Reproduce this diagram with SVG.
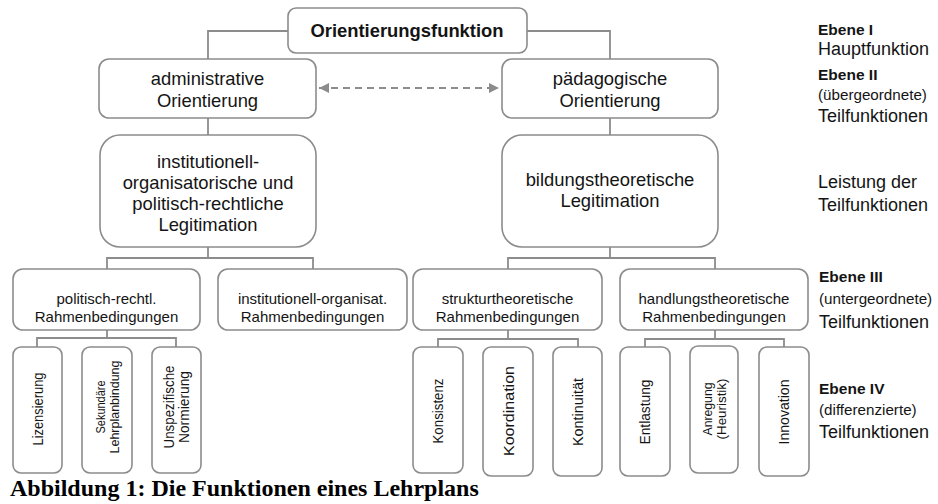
<svg xmlns="http://www.w3.org/2000/svg" width="938" height="504" viewBox="0 0 938 504">
<defs>
<style>
.box{fill:#fff;stroke:#8c8c8c;stroke-width:1.6}
.con{fill:none;stroke:#8c8c8c;stroke-width:1.8}
.t{font-family:"Liberation Sans",Arial,sans-serif;fill:#141414;text-anchor:middle}
.l2{font-size:18.4px}
.l3{font-size:15px}
.lab{font-family:"Liberation Sans",Arial,sans-serif;fill:#141414}
.eb{font-size:15.5px;font-weight:bold}
.big{font-size:18px}
.par{font-size:15.2px}
.v{font-size:14.5px}
.v2{font-size:13.5px}
</style>
<marker id="ah" viewBox="0 0 10 10" refX="10" refY="5" markerWidth="12" markerHeight="10" markerUnits="userSpaceOnUse" orient="auto-start-reverse">
<path d="M0,0 L10,5 L0,10 z" fill="#8c8c8c"/>
</marker>
</defs>
<rect width="938" height="504" fill="#fff"/>

<g id="connectors">
<path class="con" d="M288,31 H208 V59"/>
<path class="con" d="M527,31 H610 V59"/>
<path class="con" d="M208,118 V135"/>
<path class="con" d="M610,118 V135"/>
<path class="con" d="M208,247 V258"/>
<path class="con" d="M107,269 V258 H313 V269"/>
<path class="con" d="M610,247 V258"/>
<path class="con" d="M508,269 V258 H715 V269"/>
<path class="con" d="M107,330 V338"/>
<path class="con" d="M37,347 V338 H176 V347"/>
<path class="con" d="M508,330 V339"/>
<path class="con" d="M438,347 V339 H578 V347"/>
<path class="con" d="M715,330 V339"/>
<path class="con" d="M645,347 V339 H784 V347"/>
<line x1="319" y1="88" x2="499" y2="88" stroke="#8c8c8c" stroke-width="1.8" stroke-dasharray="7,5" marker-start="url(#ah)" marker-end="url(#ah)"/>
</g>

<g id="orientierungsfunktion">
<rect class="box" x="288" y="8" width="239" height="45" rx="8"/>
<text class="t" x="407" y="37" font-size="18.4" font-weight="bold">Orientierungsfunktion</text>
</g>

<g id="administrative">
<rect class="box" x="99" y="59" width="217" height="59" rx="10"/>
<text class="t l2" x="207.5" y="85">administrative</text>
<text class="t l2" x="207.5" y="107">Orientierung</text>
</g>

<g id="paedagogische">
<rect class="box" x="502" y="59" width="216" height="59" rx="10"/>
<text class="t l2" x="610" y="85">pädagogische</text>
<text class="t l2" x="610" y="107">Orientierung</text>
</g>

<g id="legitimation-inst">
<rect class="box" x="100" y="135" width="216" height="112" rx="20"/>
<text class="t l2" x="208" y="168">institutionell-</text>
<text class="t l2" x="208" y="189">organisatorische und</text>
<text class="t l2" x="208" y="210">politisch-rechtliche</text>
<text class="t l2" x="208" y="231">Legitimation</text>
</g>

<g id="legitimation-bild">
<rect class="box" x="502" y="135" width="216" height="112" rx="20"/>
<text class="t l2" x="610" y="186">bildungstheoretische</text>
<text class="t l2" x="610" y="207">Legitimation</text>
</g>

<g id="politisch">
<rect class="box" x="13" y="269" width="187" height="61" rx="10"/>
<text class="t l3" x="106.5" y="304">politisch-rechtl.</text>
<text class="t l3" x="106.5" y="322">Rahmenbedingungen</text>
</g>

<g id="institutionell">
<rect class="box" x="218" y="269" width="189" height="61" rx="10"/>
<text class="t l3" x="312.5" y="304">institutionell-organisat.</text>
<text class="t l3" x="312.5" y="322">Rahmenbedingungen</text>
</g>

<g id="strukturtheoretisch">
<rect class="box" x="413" y="269" width="189" height="61" rx="10"/>
<text class="t l3" x="507.5" y="304">strukturtheoretische</text>
<text class="t l3" x="507.5" y="322">Rahmenbedingungen</text>
</g>

<g id="handlungstheoretisch">
<rect class="box" x="620" y="269" width="188" height="61" rx="10"/>
<text class="t l3" x="714" y="304">handlungstheoretische</text>
<text class="t l3" x="714" y="322">Rahmenbedingungen</text>
</g>

<g id="lizensierung">
<rect class="box" x="13" y="347" width="49" height="126" rx="8"/>
<text class="t v" transform="translate(37.5,409) rotate(-90)" y="5" textLength="73" lengthAdjust="spacingAndGlyphs">Lizensierung</text>
</g>

<g id="sekundaere">
<rect class="box" x="82" y="347" width="50" height="126" rx="8"/>
<g transform="translate(107,407) rotate(-90)">
<text class="t v2" y="-2.5" textLength="53" lengthAdjust="spacingAndGlyphs">Sekundäre</text>
<text class="t v2" y="12" textLength="93" lengthAdjust="spacingAndGlyphs">Lehrplanbindung</text>
</g>
</g>

<g id="unspezifische">
<rect class="box" x="152" y="347" width="49" height="126" rx="8"/>
<g transform="translate(176.5,407) rotate(-90)">
<text class="t v" y="-3" textLength="83" lengthAdjust="spacingAndGlyphs">Unspezifische</text>
<text class="t v" y="12.5" textLength="72" lengthAdjust="spacingAndGlyphs">Normierung</text>
</g>
</g>

<g id="konsistenz">
<rect class="box" x="413" y="347" width="50" height="126" rx="8"/>
<text class="t v" transform="translate(438,411) rotate(-90)" y="5" textLength="65" lengthAdjust="spacingAndGlyphs">Konsistenz</text>
</g>

<g id="koordination">
<rect class="box" x="483" y="347" width="50" height="129" rx="8"/>
<text class="t" font-size="15.5" transform="translate(508,411) rotate(-90)" y="5.5" textLength="90" lengthAdjust="spacingAndGlyphs">Koordination</text>
</g>

<g id="kontinuitaet">
<rect class="box" x="553" y="347" width="49" height="129" rx="8"/>
<text class="t v" transform="translate(578,412) rotate(-90)" y="5" textLength="68" lengthAdjust="spacingAndGlyphs">Kontinuität</text>
</g>

<g id="entlastung">
<rect class="box" x="620" y="347" width="50" height="129" rx="8"/>
<text class="t v" transform="translate(645,412) rotate(-90)" y="5" textLength="65" lengthAdjust="spacingAndGlyphs">Entlastung</text>
</g>

<g id="anregung">
<rect class="box" x="690" y="346" width="48" height="127" rx="8"/>
<g transform="translate(714,409) rotate(-90)">
<text class="t v2" y="-2.5" textLength="53" lengthAdjust="spacingAndGlyphs">Anregung</text>
<text class="t v2" y="12" textLength="61" lengthAdjust="spacingAndGlyphs">(Heuristik)</text>
</g>
</g>

<g id="innovation">
<rect class="box" x="759" y="347" width="50" height="129" rx="8"/>
<text class="t v" transform="translate(784,412) rotate(-90)" y="5" textLength="65" lengthAdjust="spacingAndGlyphs">Innovation</text>
</g>

<g id="ebenen">
<text class="lab eb" x="818" y="35">Ebene I</text>
<text class="lab big" x="818" y="55">Hauptfunktion</text>
<text class="lab eb" x="818" y="80">Ebene II</text>
<text class="lab par" x="818" y="100">(übergeordnete)</text>
<text class="lab big" x="818" y="122">Teilfunktionen</text>
<text class="lab big" x="818" y="188">Leistung der</text>
<text class="lab big" x="818" y="211">Teilfunktionen</text>
<text class="lab eb" x="819" y="282">Ebene III</text>
<text class="lab par" x="819" y="304">(untergeordnete)</text>
<text class="lab big" x="819" y="328">Teilfunktionen</text>
<text class="lab eb" x="819" y="394">Ebene IV</text>
<text class="lab par" x="819" y="415">(differenzierte)</text>
<text class="lab big" x="819" y="438">Teilfunktionen</text>
</g>

<text x="10" y="496" font-family="'Liberation Serif','Times New Roman',serif" font-size="24" font-weight="bold" fill="#000">Abbildung 1: Die Funktionen eines Lehrplans</text>
</svg>
